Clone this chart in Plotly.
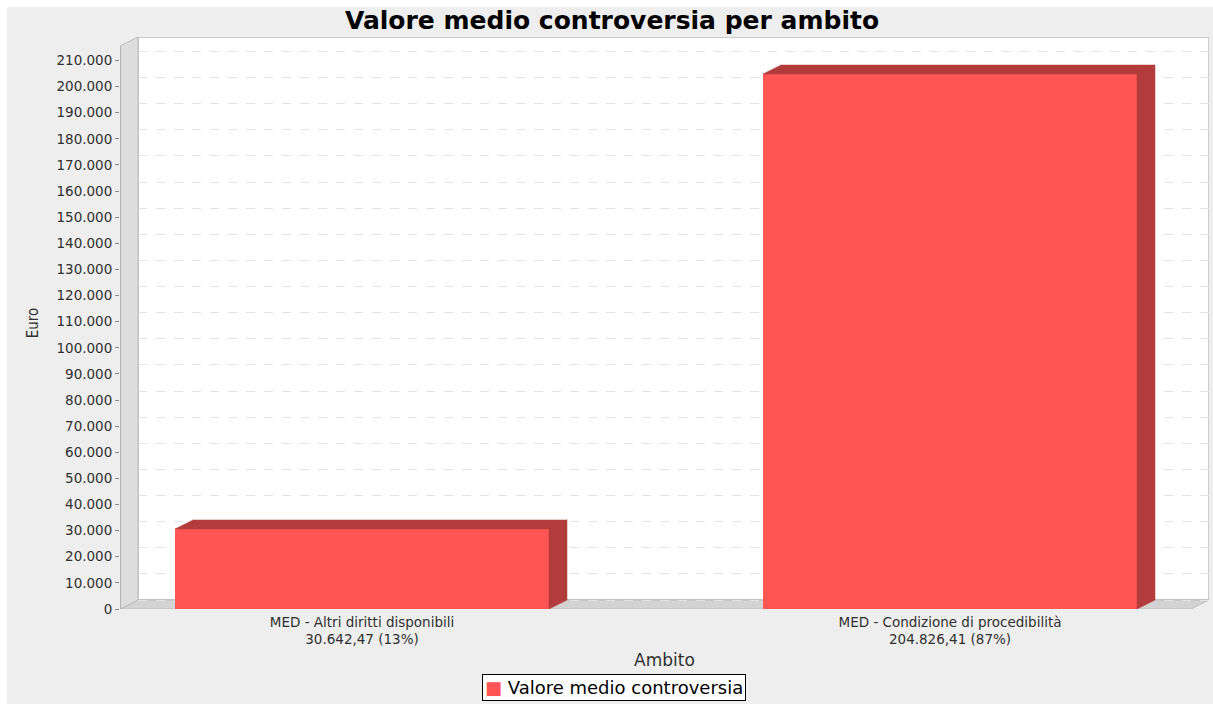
import plotly.graph_objects as go

# ---------------- data ----------------
categories = ["MED - Altri diritti disponibili", "MED - Condizione di procedibilità"]
values = [30642.47, 204826.41]
series_name = "Valore medio controversia"
title_text = "Valore medio controversia per ambito"
x_title = "Ambito"
y_title = "Euro"

# ---------------- styling / geometry ----------------
W, H = 1213, 704
ML, MR, MT, MB = 120, 4, 37, 95
plot_w = W - ML - MR
plot_h = H - MT - MB
DEPTH_X_PX, DEPTH_Y_PX = 18, 9

front = "#FF5555"
dark = "#B23B3B"

y_top = 219000.0
x_lo = -0.4116
cat_px = 588.0
x_hi = x_lo + plot_w / cat_px
bar_w = 0.636

dx = DEPTH_X_PX / cat_px
dy = DEPTH_Y_PX * y_top / plot_h


def fmt_it(v):
    s = f"{v:,.2f}"
    return s.replace(",", "X").replace(".", ",").replace("X", ".")


total = sum(values)
ticktext = [f"{c}<br>{fmt_it(v)} ({round(100 * v / total):.0f}%)" for c, v in zip(categories, values)]
xpos = list(range(len(categories)))

fig = go.Figure()

# front faces of the bars
fig.add_trace(go.Bar(
    x=xpos, y=values, width=bar_w, name=series_name,
    marker=dict(color=front, line=dict(width=0)),
    hoverinfo="skip", showlegend=False,
))

# top + side faces (depth) derived from the data
px_, py_ = [], []
for c, v in zip(xpos, values):
    l, r = c - bar_w / 2, c + bar_w / 2
    px_ += [l, l + dx, r + dx, r, l, None]
    py_ += [v, v + dy, v + dy, v, v, None]
    px_ += [r, r + dx, r + dx, r, r, None]
    py_ += [0, dy, v + dy, v, 0, None]
fig.add_trace(go.Scatter(
    x=px_, y=py_, mode="lines", fill="toself", fillcolor=dark,
    line=dict(color=dark, width=0.5), hoverinfo="skip", showlegend=False,
))

# dashed gridlines on the back wall via a shifted overlaying axis
fig.add_trace(go.Scatter(x=[None], y=[None], yaxis="y2", showlegend=False, hoverinfo="skip"))

shapes = []
shapes.append(dict(type="rect", xref="paper", yref="paper",
                   x0=(7 - ML) / plot_w, x1=(W - ML) / plot_w,
                   y0=-(MB) / plot_h, y1=(H - MB - 7) / plot_h,
                   fillcolor="#EEEEEE", line=dict(width=0), layer="below"))
shapes.append(dict(type="rect", xref="x", yref="y", x0=x_lo + dx, x1=x_hi, y0=dy, y1=y_top,
                   fillcolor="white", line=dict(color="#BBBBBB", width=1.5), layer="below"))
xf_r = x_hi - dx
shapes.append(dict(type="path", xref="x", yref="y",
                   path=f"M{x_lo},0 L{x_lo + dx},{dy} L{x_hi},{dy} L{xf_r},0 Z",
                   fillcolor="#D3D3D3", line=dict(color="#BBBBBB", width=1), layer="below"))
shapes.append(dict(type="path", xref="x", yref="y",
                   path=f"M{x_lo},0 L{x_lo},{y_top - dy} L{x_lo + dx},{y_top} L{x_lo + dx},{dy} Z",
                   fillcolor="#DDDDDD", line=dict(color="#BBBBBB", width=1), layer="above"))
shapes.append(dict(type="line", xref="x", yref="y", x0=x_lo, x1=x_lo, y0=0, y1=y_top - dy,
                   line=dict(color="#999999", width=1), layer="above"))

# legend box (series swatch + name)
legend_ann = dict(
    xref="paper", yref="paper", x=(614 - ML) / plot_w, y=-(687.5 - (H - MB)) / plot_h,
    xanchor="center", yanchor="middle", showarrow=False,
    text=f"<span style='color:{front}'>■</span> {series_name}",
    font=dict(family="DejaVu Sans", size=18, color="black"),
    bgcolor="white", bordercolor="black", borderwidth=1, borderpad=2,
)

fig.update_layout(
    width=W, height=H,
    margin=dict(l=ML, r=MR, t=MT, b=MB, pad=0, autoexpand=False),
    paper_bgcolor="white", plot_bgcolor="rgba(0,0,0,0)",
    separators=",.",
    font=dict(family="DejaVu Sans", color="#404040"),
    title=dict(text=f"<b>{title_text}</b>", x=612 / W, xanchor="center", y=1 - 20 / H, yanchor="middle",
               font=dict(family="DejaVu Sans", size=25, color="black")),
    xaxis=dict(range=[x_lo, x_hi], tickvals=xpos, ticktext=ticktext, showgrid=False, zeroline=False,
               showline=False, ticks="", ticklabelstandoff=3,
               tickfont=dict(size=13.5, color="#303030"),
               title=dict(text=x_title, standoff=8, font=dict(size=17, color="#303030"))),
    yaxis=dict(range=[0, y_top], tick0=0, dtick=10000, tickformat=",d", showgrid=False, zeroline=False,
               showline=False, ticks="outside", ticklen=4, tickcolor="#888888",
               tickfont=dict(size=13.5, color="#303030"),
               title=dict(text=y_title, standoff=14,
                          font=dict(family="DejaVu Sans Condensed, Liberation Sans Narrow, DejaVu Sans",
                                    size=15, color="#303030"))),
    yaxis2=dict(overlaying="y", range=[-dy, y_top - dy], tick0=0, dtick=10000, showticklabels=False,
                ticks="", showgrid=True, griddash="dash", gridcolor="#E3E3E3", gridwidth=1,
                zeroline=False, showline=False),
    annotations=[legend_ann],
    shapes=shapes,
    bargap=0,
)

fig.write_html("out.html")
